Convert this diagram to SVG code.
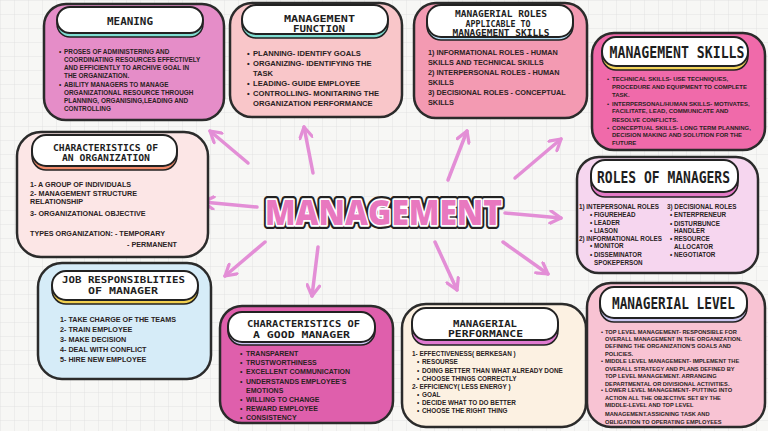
<svg xmlns="http://www.w3.org/2000/svg" width="768" height="431" viewBox="0 0 768 431">
<style>
.box{stroke:#2b2b2b;stroke-width:2.5}
.pill{fill:#fff;stroke:#222;stroke-width:2}
.sh{stroke:#222;stroke-width:1.5}
.ttl{font-family:"DejaVu Sans Mono","Liberation Mono",monospace;font-weight:bold;fill:#1e1e1e;text-anchor:middle}
.t2{font-size:9.3px}
.b{font-family:"Liberation Sans",Arial,sans-serif;font-weight:bold;fill:#2a2222}
.arr{fill:none;stroke:#e38ed6;stroke-width:3.5;stroke-linecap:round}
</style>
<defs>
<pattern id="grid" width="14" height="14" patternUnits="userSpaceOnUse">
<path d="M14 0 L0 0 0 14" fill="none" stroke="#dedede" stroke-width="0.8"/>
</pattern>
<marker id="ah" viewBox="0 0 12 12" refX="10" refY="6" markerWidth="15" markerHeight="15" markerUnits="userSpaceOnUse" orient="auto">
<path d="M1.5,1 L10,6 L1.5,11" fill="none" stroke="#e38ed6" stroke-width="2.6" stroke-linecap="round" stroke-linejoin="round"/>
</marker>
</defs>
<rect width="768" height="431" fill="#f7f7f5"/>
<rect width="768" height="431" fill="url(#grid)"/>

<g id="connectors">
<path class="arr" d="M248,163 L210,131" marker-end="url(#ah)"/>
<path class="arr" d="M313,173 L304,127" marker-end="url(#ah)"/>
<path class="arr" d="M448,180 L467,131" marker-end="url(#ah)"/>
<path class="arr" d="M515,178 L561,139" marker-end="url(#ah)"/>
<path class="arr" d="M257,207 L203,202" marker-end="url(#ah)"/>
<path class="arr" d="M505,213 L561,218" marker-end="url(#ah)"/>
<path class="arr" d="M265,242 L225,276" marker-end="url(#ah)"/>
<path class="arr" d="M318,247 L312,296" marker-end="url(#ah)"/>
<path class="arr" d="M435,242 L457,290" marker-end="url(#ah)"/>
<path class="arr" d="M503,242 L548,274" marker-end="url(#ah)"/>
</g>

<g id="center">
<text x="265" y="225" font-family="'Open Sans',Lato,sans-serif" font-weight="800" font-size="36" textLength="237" lengthAdjust="spacingAndGlyphs" fill="none" stroke="#222" stroke-width="8" stroke-linejoin="round">MANAGEMENT</text>
<text x="265" y="225" font-family="'Open Sans',Lato,sans-serif" font-weight="800" font-size="36" textLength="237" lengthAdjust="spacingAndGlyphs" fill="none" stroke="#fff" stroke-width="3.5" stroke-linejoin="round">MANAGEMENT</text>
<text x="265" y="225" font-family="'Open Sans',Lato,sans-serif" font-weight="800" font-size="36" textLength="237" lengthAdjust="spacingAndGlyphs" fill="#e878bf">MANAGEMENT</text>
</g>

<g id="meaning">
<rect class="box" x="44" y="4" width="180" height="116" rx="22" fill="#e58dc8"/>
<rect class="sh" x="57" y="11" width="146" height="26" rx="13" fill="#7fded2"/>
<rect class="pill" x="57" y="7" width="146" height="26" rx="13"/>
<text class="ttl" x="130" y="25" font-size="11" textLength="46" lengthAdjust="spacingAndGlyphs">MEANING</text>
<text class="b" font-size="6.4">
<tspan x="59" y="54">•</tspan><tspan x="64" y="54">PROSES OF ADMINISTERING AND</tspan>
<tspan x="64" y="62">COORDINATING RESOURCES EFFECTIVELY</tspan>
<tspan x="64" y="70">AND EFFICIENTLY TO ARCHIVE GOAL IN</tspan>
<tspan x="64" y="78">THE ORGANIZATION.</tspan>
<tspan x="59" y="87">•</tspan><tspan x="64" y="87">ABILITY MANAGERS TO MANAGE</tspan>
<tspan x="64" y="95">ORGANIZATIONAL RESOURCE THROUGH</tspan>
<tspan x="64" y="103">PLANNING, ORGANISING,LEADING AND</tspan>
<tspan x="64" y="111">CONTROLLING</tspan>
</text>
</g>

<g id="function">
<rect class="box" x="230" y="3" width="172" height="114" rx="22" fill="#f9c6c9"/>
<rect class="sh" x="242" y="10" width="146" height="28" rx="14" fill="#7fded2"/>
<rect class="pill" x="242" y="5" width="146" height="29" rx="14"/>
<text class="ttl t2"><tspan x="319.5" y="22" textLength="71" lengthAdjust="spacingAndGlyphs">MANAGEMENT</tspan><tspan x="319" y="32" textLength="52" lengthAdjust="spacingAndGlyphs">FUNCTION</tspan></text>
<text class="b" font-size="7.6">
<tspan x="247" y="56">•</tspan><tspan x="253" y="56">PLANNING- IDENTIFY GOALS</tspan>
<tspan x="247" y="66">•</tspan><tspan x="253" y="66">ORGANIZING- IDENTIFYING THE</tspan>
<tspan x="253" y="76">TASK</tspan>
<tspan x="247" y="86">•</tspan><tspan x="253" y="86">LEADING- GUIDE EMPLOYEE</tspan>
<tspan x="247" y="96">•</tspan><tspan x="253" y="96">CONTROLLING- MONITARING THE</tspan>
<tspan x="253" y="106">ORGANIZATION PERFORMANCE</tspan>
</text>
</g>

<g id="roles-applicable">
<rect class="box" x="414" y="3" width="173" height="115" rx="22" fill="#f39ab2"/>
<rect class="sh" x="427" y="10" width="146" height="30" rx="14" fill="#b6def5"/>
<rect class="pill" x="427" y="5" width="146" height="32" rx="14"/>
<text class="ttl" font-size="8.4"><tspan x="501" y="17" textLength="92" lengthAdjust="spacingAndGlyphs">MANAGERIAL ROLES</tspan><tspan x="498" y="26.5" textLength="65" lengthAdjust="spacingAndGlyphs">APPLICABLE TO</tspan><tspan x="501" y="36" textLength="97" lengthAdjust="spacingAndGlyphs">MANAGEMENT SKILLS</tspan></text>
<text class="b" font-size="7.3">
<tspan x="428" y="55">1) INFORMATIONAL ROLES - HUMAN</tspan>
<tspan x="428" y="65">SKILLS AND TECHNICAL SKILLS</tspan>
<tspan x="428" y="75">2) INTERPERSONAL ROLES - HUMAN</tspan>
<tspan x="428" y="85">SKILLS</tspan>
<tspan x="428" y="95">3) DECISIONAL ROLES - CONCEPTUAL</tspan>
<tspan x="428" y="105">SKILLS</tspan>
</text>
</g>

<g id="skills">
<rect class="box" x="592" y="33" width="173" height="117" rx="22" fill="#f06aaa"/>
<rect class="sh" x="602" y="42" width="146" height="28" rx="14" fill="#f3d55b"/>
<rect class="pill" x="602" y="37" width="146" height="29" rx="14"/>
<text class="ttl" x="677" y="58" font-size="15" textLength="135" lengthAdjust="spacingAndGlyphs">MANAGEMENT SKILLS</text>
<text class="b" font-size="6">
<tspan x="607" y="80.5">•</tspan><tspan x="612" y="80.5">TECHNICAL SKILLS- USE TECHNIQUES,</tspan>
<tspan x="612" y="89">PROCEDURE AND EQUIPMENT TO COMPLETE</tspan>
<tspan x="612" y="97">TASK.</tspan>
<tspan x="607" y="105.5">•</tspan><tspan x="612" y="105.5">INTERPERSONAL/HUMAN SKILLS- MOTIVATES,</tspan>
<tspan x="612" y="113">FACILITATE, LEAD, COMMUNICATE AND</tspan>
<tspan x="612" y="121.5">RESOLVE CONFLICTS.</tspan>
<tspan x="607" y="129.5">•</tspan><tspan x="612" y="129.5">CONCEPTUAL SKILLS- LONG TERM PLANNING,</tspan>
<tspan x="612" y="137">DECISION MAKING AND SOLUTION FOR THE</tspan>
<tspan x="612" y="144.5">FUTURE</tspan>
</text>
</g>

<g id="char-org">
<rect class="box" x="17" y="132" width="191" height="125" rx="24" fill="#fce6e6"/>
<rect class="sh" x="32" y="140" width="145" height="30" rx="14" fill="#f08a6a"/>
<rect class="pill" x="32" y="135" width="145" height="31" rx="14"/>
<text class="ttl t2"><tspan x="105.5" y="151" textLength="105" lengthAdjust="spacingAndGlyphs">CHARACTERISTICS OF</tspan><tspan x="106" y="161" textLength="88" lengthAdjust="spacingAndGlyphs">AN ORGANIZATION</tspan></text>
<text class="b" font-size="7.2">
<tspan x="30" y="186.5">1- A GROUP OF INDIVIDUALS</tspan>
<tspan x="30" y="196">2- MANAGEMENT STRUCTURE</tspan>
<tspan x="30" y="204">RELATIONSHIP</tspan>
<tspan x="30" y="216">3- ORGANIZATIONAL OBJECTIVE</tspan>
<tspan x="30" y="236">TYPES ORGANIZATION: - TEMPORARY</tspan>
<tspan x="177" y="246.5" text-anchor="end">- PERMANENT</tspan>
</text>
</g>

<g id="roles-managers">
<rect class="box" x="577" y="157" width="181" height="116" rx="22" fill="#f6d6ef"/>
<rect class="sh" x="591" y="166" width="147" height="31" rx="14" fill="#e37ac6"/>
<rect class="pill" x="591" y="160" width="147" height="32" rx="14"/>
<text class="ttl" x="663.5" y="183" font-size="15" textLength="133" lengthAdjust="spacingAndGlyphs">ROLES OF MANAGERS</text>
<text class="b" font-size="6.3">
<tspan x="579" y="209">1) INTEPERSONAL ROLES</tspan>
<tspan x="590" y="217">•</tspan><tspan x="594" y="217">FIGUREHEAD</tspan>
<tspan x="590" y="224.5">•</tspan><tspan x="594" y="224.5">LEADER</tspan>
<tspan x="590" y="233">•</tspan><tspan x="594" y="233">LIASON</tspan>
<tspan x="579" y="240.5">2) INFORMATIONAL ROLES</tspan>
<tspan x="590" y="248">•</tspan><tspan x="594" y="248">MONITOR</tspan>
<tspan x="590" y="256.5">•</tspan><tspan x="594" y="256.5">DISSEMINATOR</tspan>
<tspan x="594" y="264.5">SPOKEPERSON</tspan>
<tspan x="667" y="209">3) DECISIONAL ROLES</tspan>
<tspan x="670" y="217">•</tspan><tspan x="674" y="217">ENTERPRENEUR</tspan>
<tspan x="670" y="225.5">•</tspan><tspan x="674" y="225.5">DISTURBUNCE</tspan>
<tspan x="674" y="233">HANDLER</tspan>
<tspan x="670" y="241">•</tspan><tspan x="674" y="241">RESOURCE</tspan>
<tspan x="674" y="249">ALLOCATOR</tspan>
<tspan x="670" y="257">•</tspan><tspan x="674" y="257">NEGOTIATOR</tspan>
</text>
</g>

<g id="job">
<rect class="box" x="38" y="263" width="173" height="116" rx="24" fill="#d6ecf8"/>
<rect class="sh" x="52" y="276" width="146" height="28" rx="14" fill="#f1cf4f"/>
<rect class="pill" x="52" y="271" width="146" height="29" rx="14"/>
<text class="ttl t2"><tspan x="123.5" y="283" textLength="123" lengthAdjust="spacingAndGlyphs">JOB RESPONSIBLITIES</tspan><tspan x="123" y="294" textLength="70" lengthAdjust="spacingAndGlyphs">OF MANAGER</tspan></text>
<text class="b" font-size="7.2">
<tspan x="60" y="322">1- TAKE CHARGE OF THE TEAMS</tspan>
<tspan x="60" y="332">2- TRAIN EMPLOYEE</tspan>
<tspan x="60" y="342">3- MAKE DECISION</tspan>
<tspan x="60" y="352">4- DEAL WITH CONFLICT</tspan>
<tspan x="60" y="362">5- HIRE NEW EMPLOYEE</tspan>
</text>
</g>

<g id="good-manager">
<rect class="box" x="220" y="306" width="173" height="117" rx="22" fill="#df5fac"/>
<rect class="sh" x="228" y="317" width="147" height="28" rx="14" fill="#cfc6f5"/>
<rect class="pill" x="228" y="312" width="147" height="30" rx="14"/>
<text class="ttl t2"><tspan x="303.5" y="327" textLength="113" lengthAdjust="spacingAndGlyphs">CHARACTERISTICS OF</tspan><tspan x="301.5" y="338" textLength="97" lengthAdjust="spacingAndGlyphs">A GOOD MANAGER</tspan></text>
<text class="b" font-size="7">
<tspan x="240" y="356">•</tspan><tspan x="246" y="356">TRANSPARENT</tspan>
<tspan x="240" y="365">•</tspan><tspan x="246" y="365">TRUSTWORTHINESS</tspan>
<tspan x="240" y="374">•</tspan><tspan x="246" y="374">EXCELLENT COMMUNICATION</tspan>
<tspan x="240" y="383.5">•</tspan><tspan x="246" y="383.5">UNDERSTANDS EMPLOYEE'S</tspan>
<tspan x="246" y="392.5">EMOTIONS</tspan>
<tspan x="240" y="401.5">•</tspan><tspan x="246" y="401.5">WILLING TO CHANGE</tspan>
<tspan x="240" y="411">•</tspan><tspan x="246" y="411">REWARD EMPLOYEE</tspan>
<tspan x="240" y="420">•</tspan><tspan x="246" y="420">CONSISTENCY</tspan>
</text>
</g>

<g id="performance">
<rect class="box" x="402" y="304" width="184" height="123" rx="24" fill="#fcf1e2"/>
<rect class="sh" x="412" y="315" width="146" height="30" rx="14" fill="#e07ad0"/>
<rect class="pill" x="412" y="308" width="146" height="32" rx="14"/>
<text class="ttl t2"><tspan x="485" y="326.5" textLength="64" lengthAdjust="spacingAndGlyphs">MANAGERIAL</tspan><tspan x="485.5" y="337" textLength="75" lengthAdjust="spacingAndGlyphs">PERFORMANCE</tspan></text>
<text class="b" font-size="6.4">
<tspan x="412" y="355.5">1- EFFECTIVENESS( BERKESAN )</tspan>
<tspan x="417" y="364">•</tspan><tspan x="422" y="364">RESOURSE</tspan>
<tspan x="417" y="372.5">•</tspan><tspan x="422" y="372.5">DOING BETTER THAN WHAT ALREADY DONE</tspan>
<tspan x="417" y="380.5">•</tspan><tspan x="422" y="380.5">CHOOSE THINGS CORRECTLY</tspan>
<tspan x="412" y="388.5">2- EFFICIENCY( LESS ENERGY )</tspan>
<tspan x="417" y="396.5">•</tspan><tspan x="422" y="396.5">GOAL</tspan>
<tspan x="417" y="404.5">•</tspan><tspan x="422" y="404.5">DECIDE WHAT TO DO BETTER</tspan>
<tspan x="417" y="413">•</tspan><tspan x="422" y="413">CHOOSE THE RIGHT THING</tspan>
</text>
</g>

<g id="level">
<rect class="box" x="587" y="283" width="178" height="144" rx="24" fill="#f8c3d3"/>
<rect class="sh" x="600" y="292" width="147" height="30" rx="14" fill="#cbc6f0"/>
<rect class="pill" x="600" y="287" width="147" height="31" rx="14"/>
<text class="ttl" x="673.5" y="309" font-size="15" textLength="123" lengthAdjust="spacingAndGlyphs">MANAGERIAL LEVEL</text>
<text class="b" font-size="5.7">
<tspan x="601" y="334">•</tspan><tspan x="605" y="334">TOP LEVEL MANAGEMENT- RESPONSIBLE FOR</tspan>
<tspan x="605" y="341">OVERALL MANAGEMENT IN THE ORGANIZATION.</tspan>
<tspan x="605" y="348">DEFINING THE ORGANIZATION'S GOALS AND</tspan>
<tspan x="605" y="355.5">POLICIES.</tspan>
<tspan x="601" y="363">•</tspan><tspan x="605" y="363">MIDDLE LEVEL MANAGEMENT- IMPLEMENT THE</tspan>
<tspan x="605" y="370.5">OVERALL STRATEGY AND PLANS DEFINED BY</tspan>
<tspan x="605" y="378">TOP LEVEL MANAGEMENT. ARRANGING</tspan>
<tspan x="605" y="385.5">DEPARTMENTAL OR DIVISIONAL ACTIVITIES.</tspan>
<tspan x="601" y="392">•</tspan><tspan x="605" y="392">LOWER LEVEL MANAGEMENT- PUTTING INTO</tspan>
<tspan x="605" y="399.5">ACTION ALL THE OBJECTIVE SET BY THE</tspan>
<tspan x="605" y="407">MIDDLE-LEVEL AND TOP LEVEL</tspan>
<tspan x="605" y="415.5">MANAGEMENT.ASSIGNING TASK AND</tspan>
<tspan x="605" y="424">OBLIGATION TO OPERATING EMPLOYEES</tspan>
</text>
</g>
</svg>
